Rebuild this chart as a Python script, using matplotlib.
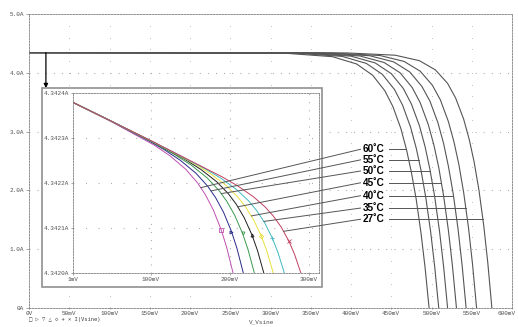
import numpy as np
import matplotlib
matplotlib.use("Agg")
import matplotlib.pyplot as plt
import matplotlib.transforms as mtransforms
from matplotlib.patches import Rectangle, ConnectionPatch

# ---------------- data ----------------
temps = ["60˚C", "55˚C", "50˚C", "45˚C", "40˚C", "35˚C", "27˚C"]

# main I-V curves (V in mV, I in A)
v_main_60 = [0, 317, 377, 407, 427, 442, 452, 462, 469, 475, 481, 487, 492, 497]
i_main_60 = [4.3424, 4.334, 4.274, 4.150, 3.957, 3.695, 3.427, 3.05, 2.69, 2.31, 1.85, 1.27, 0.69, 0.0]
v_main_55 = [0, 329, 389, 419, 439, 454, 464, 474, 481, 487, 493, 499, 504, 509]
i_main_55 = [4.3424, 4.335, 4.279, 4.160, 3.973, 3.716, 3.452, 3.076, 2.72, 2.34, 1.87, 1.29, 0.70, 0.0]
v_main_50 = [0, 340, 400, 430, 450, 465, 475, 485, 492, 498, 504, 510, 515, 520]
i_main_50 = [4.3424, 4.335, 4.283, 4.168, 3.986, 3.733, 3.47, 3.10, 2.745, 2.36, 1.89, 1.30, 0.71, 0.0]
v_main_45 = [0, 351, 411, 441, 461, 476, 486, 496, 503, 509, 515, 521, 526, 531]
i_main_45 = [4.3424, 4.336, 4.286, 4.176, 4.00, 3.75, 3.49, 3.12, 2.77, 2.39, 1.91, 1.32, 0.72, 0.0]
v_main_40 = [0, 363, 423, 453, 473, 488, 498, 508, 515, 521, 527, 533, 538, 543]
i_main_40 = [4.3424, 4.337, 4.291, 4.186, 4.014, 3.77, 3.52, 3.15, 2.80, 2.41, 1.94, 1.34, 0.73, 0.0]
v_main_35 = [0, 376, 436, 466, 486, 501, 511, 521, 528, 534, 540, 546, 551, 556]
i_main_35 = [4.3424, 4.337, 4.294, 4.193, 4.027, 3.79, 3.54, 3.17, 2.82, 2.44, 1.96, 1.36, 0.74, 0.0]
v_main_27 = [0, 395, 455, 485, 505, 520, 530, 540, 547, 553, 559, 565, 570, 575]
i_main_27 = [4.3424, 4.338, 4.299, 4.206, 4.048, 3.82, 3.57, 3.21, 2.86, 2.48, 2.00, 1.39, 0.76, 0.0]

# zoomed (inset) curves
v_ins_60 = [1, 50, 104, 124, 144, 159, 169, 179, 189, 196, 204]
i_ins_60 = [4.3423791, 4.342336, 4.3422842, 4.3422605, 4.3422305, 4.3422002, 4.3421737, 4.3421400, 4.3420958, 4.3420563, 4.3420000]
v_ins_55 = [1, 50, 100, 117, 137, 157, 172, 182, 192, 202, 209, 217]
i_ins_55 = [4.3423791, 4.342337, 4.342291, 4.3422737, 4.3422506, 4.3422216, 4.3421925, 4.3421671, 4.3421347, 4.3420922, 4.3420544, 4.3420000]
v_ins_50 = [1, 50, 100, 131, 151, 171, 186, 196, 206, 216, 223, 231]
i_ins_50 = [4.3423791, 4.342337, 4.3422923, 4.3422622, 4.3422397, 4.3422116, 4.3421837, 4.3421595, 4.3421286, 4.3420881, 4.342052, 4.3420000]
v_ins_45 = [1, 50, 100, 143, 163, 183, 198, 208, 218, 228, 235, 243]
i_ins_45 = [4.3423791, 4.342337, 4.3422932, 4.3422524, 4.3422304, 4.3422032, 4.3421762, 4.342153, 4.3421234, 4.3420846, 4.3420499, 4.3420000]
v_ins_40 = [1, 50, 100, 155, 175, 195, 210, 220, 230, 240, 247, 255]
i_ins_40 = [4.3423791, 4.342337, 4.3422935, 4.3422427, 4.3422211, 4.3421947, 4.3421689, 4.3421466, 4.3421183, 4.3420812, 4.342048, 4.3420000]
v_ins_35 = [1, 50, 100, 169, 189, 209, 224, 234, 244, 254, 261, 269]
i_ins_35 = [4.3423791, 4.342337, 4.3422937, 4.3422312, 4.3422101, 4.3421846, 4.3421598, 4.3421387, 4.3421119, 4.3420768, 4.3420453, 4.3420000]
v_ins_27 = [1, 50, 100, 190, 210, 230, 245, 255, 265, 275, 282, 290]
i_ins_27 = [4.3423791, 4.342337, 4.342294, 4.3422138, 4.3421934, 4.3421692, 4.3421462, 4.3421267, 4.3421022, 4.3420702, 4.3420415, 4.3420000]

# annotation data
label_i = [2.70, 2.52, 2.33, 2.13, 1.91, 1.70, 1.51]      # label rows (A, main axes)
inset_anchor_v = [163, 176, 189, 210, 227, 243, 268]      # where pointer meets the zoomed curve (mV)

main_xticks = list(range(0, 601, 50))
main_xlabels = ["0V"] + [f"{v}mV" for v in range(50, 601, 50)]
main_yticks = [0, 1, 2, 3, 4, 5]
main_ylabels = ["0A", "1.0A", "2.0A", "3.0A", "4.0A", "5.0A"]
ins_xticks = [1, 100, 200, 300]
ins_xlabels = ["1mV", "100mV", "200mV", "300mV"]
ins_yticks = [4.3420, 4.3421, 4.3422, 4.3423, 4.3424]
ins_ylabels = ["4.3420A", "4.3421A", "4.3422A", "4.3423A", "4.3424A"]

main_v = [v_main_60, v_main_55, v_main_50, v_main_45, v_main_40, v_main_35, v_main_27]
main_i = [i_main_60, i_main_55, i_main_50, i_main_45, i_main_40, i_main_35, i_main_27]
ins_v = [v_ins_60, v_ins_55, v_ins_50, v_ins_45, v_ins_40, v_ins_35, v_ins_27]
ins_i = [i_ins_60, i_ins_55, i_ins_50, i_ins_45, i_ins_40, i_ins_35, i_ins_27]
ins_colors = ["#c050b0", "#2a2a8a", "#3a9a50", "#202020", "#e8e040", "#40b8c0", "#c04060"]
ins_markers = ["s", ">", "v", "^", "D", "+", "x"]

# ---------------- figure ----------------
W, H = 518, 327
fig = plt.figure(figsize=(W / 100, H / 100), dpi=100)

def fx(px):
    return px / W

def fy(py):
    return 1 - py / H

tick_font = dict(family="Liberation Mono", size=4.3, color="#505050")
grey = "#808080"

ax = fig.add_axes([fx(29), fy(308), fx(512) - fx(29), fy(14) - fy(308)])
ax.set_xlim(0, 600)
ax.set_ylim(0, 5)
for sp in ax.spines.values():
    sp.set_color(grey)
    sp.set_linewidth(0.6)
    sp.set_linestyle((0, (2, 1.5)))
ax.set_xticks(main_xticks)
ax.set_xticklabels(main_xlabels, fontdict=tick_font)
ax.set_yticks(main_yticks)
ax.set_yticklabels(main_ylabels, fontdict=tick_font)
ax.tick_params(axis="both", length=2, width=0.5, color=grey, pad=1.5)
ax.tick_params(axis="x", direction="inout")
last = ax.get_xticklabels()[-1]
last.set_transform(last.get_transform() + mtransforms.ScaledTranslation(-5 / 100, 0, fig.dpi_scale_trans))

# grid: dense dotted rows at major currents, sparse dot columns every 50 mV
for yv in main_yticks[1:-1]:
    ax.axhline(yv, color="#a0a0a0", lw=0.8, ls=(0, (0.8, 6.5)), zorder=0)
gx, gy = np.meshgrid(main_xticks[1:-1], np.arange(0.2, 5.0, 0.2))
ax.scatter(gx.ravel(), gy.ravel(), s=0.25, color="#a0a0a0", lw=0, zorder=0)

for v, i in zip(main_v, main_i):
    ax.plot(v, i, color="#555555", lw=0.8, zorder=2)

# texts for temperature labels and horizontal pointers
for k, t in enumerate(temps):
    ax.text(415, label_i[k], t, fontsize=7.2, fontweight="bold",
            family="Liberation Sans", va="center", ha="left", zorder=5)
    v_hit = np.interp(label_i[k], main_i[k][::-1], main_v[k][::-1])
    ax.plot([447, v_hit], [label_i[k], label_i[k]], color="#555555", lw=0.7, zorder=3)

fig.text(fx(262), fy(322), "V_Vsine", ha="center", va="center",
         family="Liberation Mono", size=4.3, color="#505050")
fig.text(fx(29), fy(319), "□ ▷ ▽ △ ◇ + × I(Vsine)", ha="left", va="center",
         family="DejaVu Sans Mono", size=4.0, color="#404040")

# arrow from the Isc line down to the zoom box
ax.annotate("", xy=(21, 3.74), xytext=(21, 4.3424),
            arrowprops=dict(arrowstyle="-|>", color="black", lw=0.9,
                            mutation_scale=6, shrinkA=0, shrinkB=0), zorder=4)

# inset frame
box = Rectangle((fx(42), fy(287)), fx(322) - fx(42), fy(88) - fy(287),
                transform=fig.transFigure, facecolor="white", edgecolor="#909090",
                lw=1.2, zorder=1)
fig.add_artist(box)

axi = fig.add_axes([fx(73), fy(273), fx(319) - fx(73), fy(93) - fy(273)], zorder=2)
axi.set_xlim(1, 313)
axi.set_ylim(4.3420, 4.3424)
for sp in axi.spines.values():
    sp.set_color(grey)
    sp.set_linewidth(0.6)
    sp.set_linestyle((0, (2, 1.5)))
axi.set_xticks(ins_xticks)
axi.set_xticklabels(ins_xlabels, fontdict=tick_font)
axi.set_yticks(ins_yticks)
axi.set_yticklabels(ins_ylabels, fontdict=tick_font)
axi.tick_params(axis="both", length=1.5, width=0.5, color=grey, pad=1.5)
for xv in ins_xticks[1:]:
    axi.axvline(xv, color="#a0a0a0", lw=0.8, ls=(0, (0.8, 6.5)), zorder=0)
for yv in ins_yticks[1:-1]:
    axi.axhline(yv, color="#a0a0a0", lw=0.8, ls=(0, (0.8, 10.5)), zorder=0)

for k, (v, i, c) in enumerate(zip(ins_v, ins_i, ins_colors)):
    axi.plot(v, i, color=c, lw=0.7, zorder=2)
    axi.plot(v[len(v) - 3:len(v) - 2], i[len(v) - 3:len(v) - 2], ls="none",
             marker=ins_markers[k], ms=2.2, mfc="none", mec=c, mew=0.6, zorder=3)

# pointers from labels into the inset
for k in range(len(temps)):
    iv = inset_anchor_v[k]
    ii = np.interp(iv, ins_v[k], ins_i[k])
    con = ConnectionPatch(xyA=(412, label_i[k]), coordsA=ax.transData,
                          xyB=(iv, ii), coordsB=axi.transData,
                          color="#555555", lw=0.7, zorder=6)
    fig.add_artist(con)

fig.savefig("out.png", dpi=100)
